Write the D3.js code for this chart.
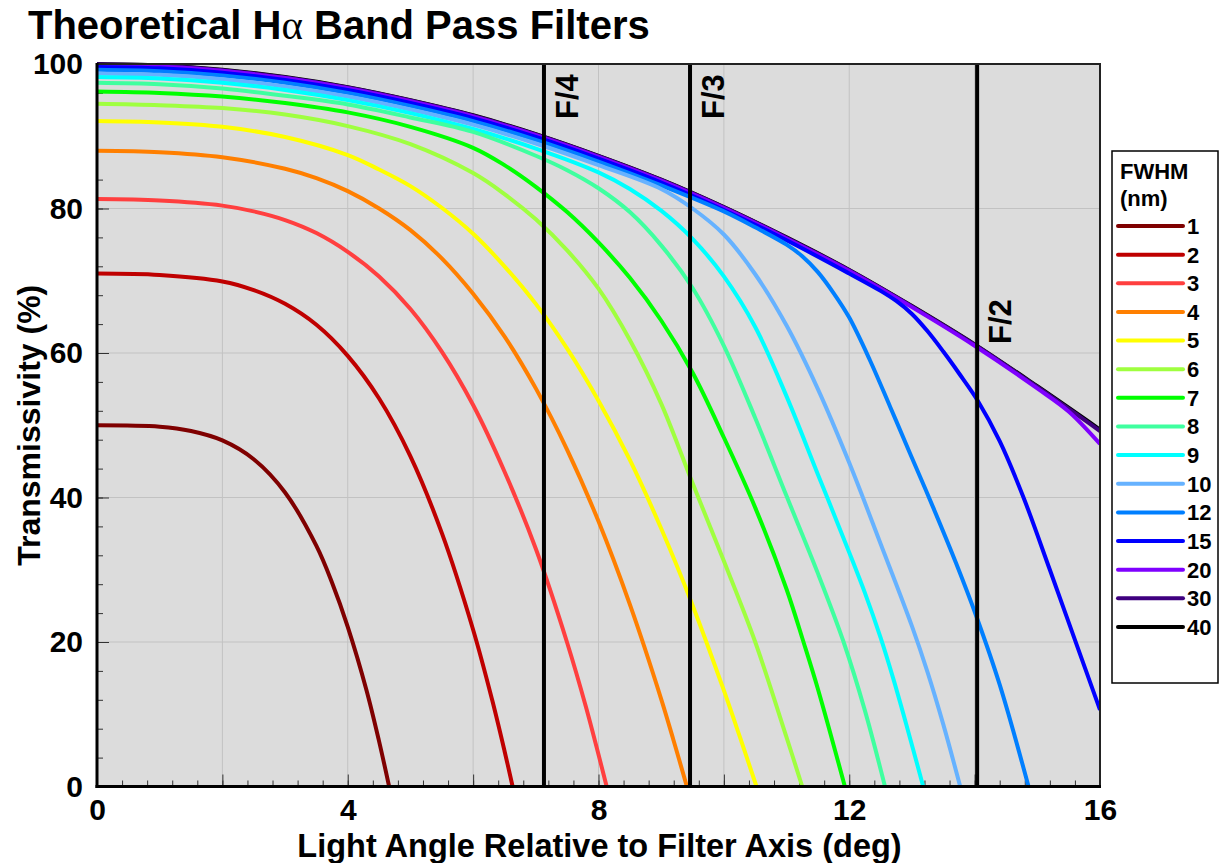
<!DOCTYPE html>
<html>
<head>
<meta charset="utf-8">
<script src="https://cdn.jsdelivr.net/npm/d3@7"></script>
<style>
  html, body { margin: 0; padding: 0; background: #ffffff; }
  svg { display: block; }
  text { font-family: "Liberation Sans", Arial, "DejaVu Sans", sans-serif; font-weight: bold; fill: #000; }
</style>
</head>
<body>
<svg id="chart" width="1220" height="863"></svg>
<script>
// ---------------- DATA ----------------
const titleText = "Theoretical H";
const titleGreek = "\u03b1";
const titleRest = " Band Pass Filters";
const xTitle = "Light Angle Relative to Filter Axis (deg)";
const yTitle = "Transmissivity (%)";
const legendTitle = ["FWHM", "(nm)"];

const xTickLabels = [0, 4, 8, 12, 16];
const yTickLabels = [0, 20, 40, 60, 80, 100];

const fwhm = ["1", "2", "3", "4", "5", "6", "7", "8", "9", "10", "12", "15", "20", "30", "40"];
const palette = ["#7f0000", "#bf0000", "#ff3f3f", "#ff7f00", "#ffff00", "#9fff3f", "#00ff00",
                 "#3fff9f", "#00ffff", "#66b2ff", "#007fff", "#0000ff", "#7f00ff", "#3f007f", "#000000"];

// f-ratio marker lines: label and half-angle (deg)
const fLabels = ["F/4", "F/3", "F/2"];
const fAngles = [7.13, 9.46, 14.04];

// series: [angle (deg), transmissivity (%)]
const s1  = [[0,50],[1,49.8],[1.5,49.2],[2,47.9],[2.5,45.3],[3,40.7],[3.5,33.3],[3.75,28.2],[4,22.1],[4.3,13.3],[4.5,6.25],[4.66,0]];
const s2  = [[0,71],[1,70.8],[2,69.9],[2.5,68.7],[3,66.8],[3.5,63.9],[4,59.6],[4.5,53.7],[5,45.7],[5.5,35.1],[6,21.7],[6.3,12.1],[6.5,4.95],[6.63,0]];
const s3  = [[0,81.3],[1,81.1],[2,80.4],[2.5,79.6],[3,78.4],[3.5,76.6],[4,74.0],[4.5,70.6],[5,66.1],[5.5,60.2],[6,52.8],[6.5,43.6],[7,32.9],[7.5,19.9],[7.8,11.0],[8.13,0]];
const s4  = [[0,88],[1,87.8],[2,87.1],[3,85.5],[3.5,84.2],[4,82.4],[4.5,80.0],[5,77.0],[5.5,73.1],[6,68.2],[6.5,62.3],[7,55.1],[7.5,46.6],[8,36.7],[8.5,25.2],[9,12.1],[9.2,6.3],[9.41,0]];
const s5  = [[0,92.1],[1,91.9],[2,91.3],[3,89.9],[4,87.4],[4.5,85.4],[5,83.1],[5.5,80.1],[6,76.5],[6.5,72.0],[7,66.8],[7.5,60.6],[8,53.4],[8.5,45.2],[9,35.7],[9.5,25.1],[10,13.3],[10.25,7.0],[10.52,0]];
const s6  = [[0,94.5],[1,94.3],[2,93.9],[3,93.0],[4,91.4],[5,88.9],[6,84.9],[6.5,82.0],[7,78.5],[7.5,74.2],[8,68.9],[8.5,61.8],[9,53.0],[9.5,42.0],[10,31.2],[10.5,20.0],[11,6.8],[11.25,0]];
const s7  = [[0,96.2],[1,96.0],[2,95.5],[3,94.6],[4,93.3],[5,91.3],[6,88.4],[6.5,86.0],[7,83.0],[7.5,79.5],[8,75.3],[8.5,70.4],[9,64.5],[9.5,57.3],[10,48.3],[10.5,38.6],[11,27.3],[11.27,20],[11.5,13.5],[11.93,0]];
const s8  = [[0,97.4],[1,97.2],[2,96.6],[3,95.6],[4,94.4],[5,92.6],[6,90.6],[7,87.3],[7.5,85.3],[8,82.8],[8.5,79.5],[9,74.9],[9.5,69.0],[10,61.0],[10.5,51.0],[11,40.2],[11.5,29.5],[11.91,20],[12.25,10.5],[12.57,0]];
const s9  = [[0,98.2],[1,98.0],[2,97.4],[3,96.4],[4,95.0],[5,93.2],[6,91.0],[7,88.3],[8,85.0],[8.5,82.7],[9,79.7],[9.5,75.8],[10,70.6],[10.5,63.6],[11,54.0],[11.5,43.2],[12,32.4],[12.25,26.8],[12.5,20.6],[12.7,15.0],[12.9,8.9],[13.18,0]];
const s10 = [[0,98.7],[1,98.5],[2,97.9],[3,96.9],[4,95.5],[5,93.7],[6,91.6],[7,89.0],[8,86.0],[9,82.7],[9.5,80.0],[10,76.4],[10.5,70.9],[11,63.8],[11.5,55.0],[12,44.8],[12.5,33.6],[13,22.2],[13.25,15.8],[13.5,8.6],[13.77,0]];
const s12 = [[0,99.2],[1,99.0],[2,98.4],[3,97.4],[4,96.0],[5,94.2],[6,92.1],[7,89.5],[8,86.5],[9,83.2],[10,79.6],[10.5,77.4],[11,75.0],[11.25,73.4],[11.5,71.2],[11.75,68.3],[12,64.9],[12.33,59.0],[12.65,52.6],[12.97,46.1],[13.34,38.6],[13.7,31.0],[14.03,23.5],[14.4,14.1],[14.86,0]];
const s15 = [[0,99.6],[1,99.4],[2,98.8],[3,97.8],[4,96.4],[5,94.6],[6,92.5],[7,89.9],[8,86.9],[9,83.6],[10,79.8],[11,75.6],[12,71.0],[12.5,68.6],[12.75,67.2],[13,65.4],[13.25,63.0],[13.5,60.2],[13.75,57.2],[14.05,53.4],[14.4,47.8],[14.78,40.0],[15.2,30.0],[15.6,20.3],[16,10.6]];
const s20 = [[0,99.85],[1,99.65],[2,99.05],[3,98.05],[4,96.65],[5,94.85],[6,92.75],[7,90.15],[8,87.15],[9,83.85],[10,80.05],[11,75.85],[12,71.35],[13,66.35],[14,61.0],[15,55.1],[15.5,51.9],[16,47.4]];
const s30 = [[0,99.95],[1,99.75],[2,99.15],[3,98.15],[4,96.75],[5,94.95],[6,92.85],[7,90.25],[8,87.25],[9,83.95],[10,80.15],[11,75.95],[12,71.45],[13,66.45],[14,61.15],[15,55.3],[16,49.2]];
const s40 = [[0,100],[1,99.8],[2,99.2],[3,98.2],[4,96.8],[5,95.0],[6,92.9],[7,90.3],[8,87.3],[9,84.0],[10,80.2],[11,76.0],[12,71.5],[13,66.5],[14,61.2],[15,55.4],[16,49.4]];

const seriesList = [s1, s2, s3, s4, s5, s6, s7, s8, s9, s10, s12, s15, s20, s30, s40];

// ---------------- LAYOUT ----------------
const svg = d3.select("#chart");
const plot = { left: 97, right: 1100, top: 64, bottom: 786.5 };

const x = d3.scaleLinear().domain([0, 16]).range([plot.left, plot.right]);
const y = d3.scaleLinear().domain([0, 100]).range([plot.bottom, plot.top]);

// title
const title = svg.append("text")
  .attr("x", 28).attr("y", 39)
  .style("font-size", "40px");
title.append("tspan").text(titleText);
title.append("tspan").text(titleGreek)
  .style("font-family", "'Liberation Serif', 'DejaVu Serif', serif")
  .style("font-weight", "normal")
  .style("font-size", "41px");
title.append("tspan").text(titleRest);

// plot background
svg.append("rect")
  .attr("x", plot.left).attr("y", plot.top)
  .attr("width", plot.right - plot.left).attr("height", plot.bottom - plot.top)
  .attr("fill", "#dcdcdc");

// grid lines
const gGrid = svg.append("g");
gGrid.selectAll("line.gx").data(d3.range(2, 16, 2)).join("line")
  .attr("x1", d => x(d)).attr("x2", d => x(d))
  .attr("y1", plot.top).attr("y2", plot.bottom)
  .attr("stroke", "#c2c2c2").attr("stroke-width", 1);
gGrid.selectAll("line.gy").data([20, 40, 60, 80]).join("line")
  .attr("y1", d => y(d)).attr("y2", d => y(d))
  .attr("x1", plot.left).attr("x2", plot.right)
  .attr("stroke", "#c2c2c2").attr("stroke-width", 1);

// minor / major ticks (pointing inward)
const minorX = d3.range(0, 16.001, 0.4).map(v => +v.toFixed(1));
const majorX = d3.range(0, 16.001, 2);
const minorY = d3.range(0, 100.001, 4);
const majorY = d3.range(0, 100.001, 20);

function tickGroup(axis, tr) {
  svg.append("g").attr("transform", tr)
    .call(axis)
    .call(g => g.select(".domain").remove())
    .selectAll("line").attr("stroke", "#333").attr("stroke-width", 1);
}
tickGroup(d3.axisBottom(x).tickValues(minorX).tickSize(-6).tickFormat(""), `translate(0,${plot.bottom})`);
tickGroup(d3.axisBottom(x).tickValues(majorX).tickSize(-12).tickFormat(""), `translate(0,${plot.bottom})`);
tickGroup(d3.axisLeft(y).tickValues(minorY).tickSize(-6).tickFormat(""), `translate(${plot.left},0)`);
tickGroup(d3.axisLeft(y).tickValues(majorY).tickSize(-12).tickFormat(""), `translate(${plot.left},0)`);

// curves
const clipId = "plotClip";
svg.append("clipPath").attr("id", clipId).append("rect")
  .attr("x", plot.left).attr("y", plot.top - 2)
  .attr("width", plot.right - plot.left).attr("height", plot.bottom - plot.top + 2);

const line = d3.line()
  .x(d => x(d[0]))
  .y(d => y(d[1]))
  .curve(d3.curveCatmullRom.alpha(0.5));

const order = d3.range(seriesList.length).reverse();
svg.append("g").attr("clip-path", `url(#${clipId})`)
  .selectAll("path").data(order).join("path")
  .attr("d", i => line(seriesList[i]))
  .attr("fill", "none")
  .attr("stroke", i => palette[i])
  .attr("stroke-width", 4)
  .attr("stroke-linejoin", "round");

// f-ratio lines
const gF = svg.append("g");
gF.selectAll("line").data(fAngles).join("line")
  .attr("x1", d => x(d)).attr("x2", d => x(d))
  .attr("y1", plot.top).attr("y2", plot.bottom)
  .attr("stroke", "#000").attr("stroke-width", 4);
const fLabelStart = [119, 119, 344];
gF.selectAll("text").data(fAngles).join("text")
  .attr("transform", (d, i) => `translate(${x(d) + 34},${fLabelStart[i]}) rotate(-90)`)
  .style("font-size", "31px")
  .text((d, i) => fLabels[i]);

// frame
svg.append("rect")
  .attr("x", plot.left).attr("y", plot.top)
  .attr("width", plot.right - plot.left).attr("height", plot.bottom - plot.top)
  .attr("fill", "none").attr("stroke", "#222").attr("stroke-width", 2);
svg.append("line")
  .attr("x1", plot.left).attr("x2", plot.left).attr("y1", plot.top - 1).attr("y2", plot.bottom + 1.5)
  .attr("stroke", "#000").attr("stroke-width", 3);
svg.append("line")
  .attr("x1", plot.left - 1.5).attr("x2", plot.right + 1).attr("y1", plot.bottom).attr("y2", plot.bottom)
  .attr("stroke", "#000").attr("stroke-width", 3);

// tick labels
function labelGroup(axis, tr) {
  svg.append("g").attr("transform", tr)
    .call(axis)
    .call(g => g.select(".domain").remove())
    .selectAll("text")
    .style("font-size", "30px").style("font-weight", "bold")
    .style("font-family", "'Liberation Sans', Arial, sans-serif").attr("fill", "#000");
}
labelGroup(d3.axisBottom(x).tickValues(xTickLabels).tickSize(0).tickPadding(12).tickFormat(d3.format("d")),
  `translate(0,${plot.bottom})`);
labelGroup(d3.axisLeft(y).tickValues(yTickLabels).tickSize(0).tickPadding(14).tickFormat(d3.format("d")),
  `translate(${plot.left},0)`);

// axis titles
svg.append("text")
  .attr("x", (plot.left + plot.right) / 2 + 1).attr("y", 857)
  .attr("text-anchor", "middle")
  .style("font-size", "32.5px")
  .text(xTitle);
svg.append("text")
  .attr("transform", `translate(40,${(plot.top + plot.bottom) / 2}) rotate(-90)`)
  .attr("text-anchor", "middle")
  .style("font-size", "32px")
  .text(yTitle);

// legend
const leg = { x: 1112, y: 151, w: 106, h: 532, firstY: 226, step: 28.64 };
const gL = svg.append("g");
gL.append("rect")
  .attr("x", leg.x).attr("y", leg.y).attr("width", leg.w).attr("height", leg.h)
  .attr("fill", "#fff").attr("stroke", "#000").attr("stroke-width", 1.5);
gL.selectAll("text.lt").data(legendTitle).join("text")
  .attr("x", leg.x + 8).attr("y", (d, i) => 179 + i * 27)
  .style("font-size", "22px")
  .text(d => d);
const entries = gL.selectAll("g.entry").data(fwhm).join("g")
  .attr("transform", (d, i) => `translate(${leg.x},${leg.firstY + i * leg.step})`);
entries.append("line")
  .attr("x1", 6).attr("x2", 71).attr("y1", 0).attr("y2", 0)
  .attr("stroke", (d, i) => palette[i]).attr("stroke-width", 4)
  .attr("stroke-linecap", "round");
entries.append("text")
  .attr("x", 75).attr("y", 0).attr("dy", "0.36em")
  .style("font-size", "22px")
  .text(d => d);
</script>
</body>
</html>
